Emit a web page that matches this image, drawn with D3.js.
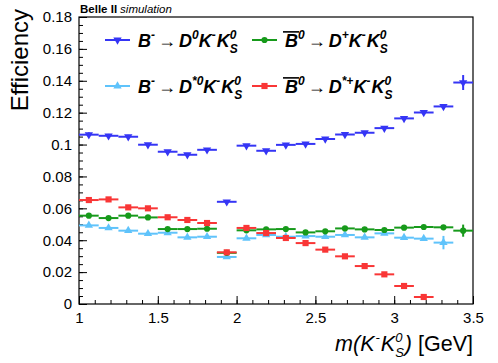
<!DOCTYPE html>
<html>
<head>
<meta charset="utf-8">
<script src="https://cdn.jsdelivr.net/npm/d3@7"></script>
<style>
  body { margin: 0; background: #fff; }
  svg text { font-family: "Liberation Sans", Arial, Helvetica, sans-serif; }
</style>
</head>
<body>
<div id="chart"></div>
<script>
// bin edges in m(K- K0S) [GeV]
const binEdges = [1.0, 1.125, 1.25, 1.375, 1.5, 1.625, 1.75, 1.875, 2.0, 2.125, 2.25,
                  2.375, 2.5, 2.625, 2.75, 2.875, 3.0, 3.125, 3.25, 3.375, 3.5];

// efficiencies per bin (null = empty bin)
const effD0 = [0.1062, 0.1055, 0.1049, 0.0999, 0.0955, 0.0936, 0.0967, 0.0641, 0.0993, 0.0961,
               0.0998, 0.1004, 0.1035, 0.1063, 0.1074, 0.1103, 0.1164, 0.1201, 0.1239, 0.1389];
const errD0 = [0.0015, 0.0012, 0.0012, 0.001, 0.001, 0.001, 0.001, 0.001, 0.001, 0.001,
               0.001, 0.001, 0.001, 0.001, 0.001, 0.001, 0.001, 0.0012, 0.0015, 0.0047];

const effDp = [0.0554, 0.0539, 0.0554, 0.0543, 0.0470, 0.0470, 0.0472, 0.0321, 0.0462, 0.0468,
               0.0470, 0.0449, 0.0456, 0.0474, 0.0468, 0.0464, 0.0479, 0.0483, 0.0481, 0.0460];
const errDp = [0.001, 0.001, 0.001, 0.001, 0.001, 0.001, 0.001, 0.001, 0.001, 0.001,
               0.001, 0.001, 0.001, 0.001, 0.001, 0.001, 0.001, 0.001, 0.001, 0.0038];

const effDs0 = [0.0493, 0.0477, 0.0460, 0.0441, 0.0447, 0.0418, 0.0422, 0.0295, 0.0412, 0.0433,
                0.0422, 0.0426, 0.0422, 0.0433, 0.0418, 0.0443, 0.0416, 0.0410, 0.0385, null];
const errDs0 = [0.001, 0.001, 0.001, 0.001, 0.001, 0.001, 0.001, 0.001, 0.001, 0.001,
                0.001, 0.001, 0.001, 0.001, 0.001, 0.001, 0.001, 0.0012, 0.0042, null];

const effDsp = [0.0652, 0.0656, 0.0606, 0.0600, 0.0544, 0.0527, 0.0508, 0.0324, 0.0477, 0.0445,
                0.0414, 0.0382, 0.0341, 0.0299, 0.0238, 0.0186, 0.0113, 0.0044, null, null];
const errDsp = [0.001, 0.001, 0.001, 0.001, 0.001, 0.001, 0.001, 0.001, 0.001, 0.001,
                0.001, 0.001, 0.001, 0.001, 0.001, 0.001, 0.001, 0.001, null, null];

const xTicks = [1, 1.5, 2, 2.5, 3, 3.5];
const xTickLabels = ["1", "1.5", "2", "2.5", "3", "3.5"];
const yTicks = [0, 0.02, 0.04, 0.06, 0.08, 0.1, 0.12, 0.14, 0.16, 0.18];
const yTickLabels = ["0", "0.02", "0.04", "0.06", "0.08", "0.1", "0.12", "0.14", "0.16", "0.18"];

const width = 498, height = 363;
const margin = { top: 17, right: 25, bottom: 59, left: 79 };
const font = 15;

const svg = d3.select("#chart").append("svg")
  .attr("width", width)
  .attr("height", height);

const x = d3.scaleLinear().domain([1, 3.5]).range([margin.left, width - margin.right]);
const y = d3.scaleLinear().domain([0, 0.18]).range([height - margin.bottom, margin.top]);

// minor ticks
const xMinor = d3.range(10, 36).map(d => d / 10);
const yMinor = d3.range(0, 37).map(d => d * 0.005);

svg.append("g")
  .attr("transform", `translate(0,${height - margin.bottom})`)
  .call(d3.axisBottom(x).tickValues(xMinor).tickSize(-4).tickFormat(""))
  .call(g => g.select(".domain").remove());
svg.append("g")
  .attr("transform", `translate(${margin.left},0)`)
  .call(d3.axisLeft(y).tickValues(yMinor).tickSize(-4).tickFormat(""))
  .call(g => g.select(".domain").remove());

svg.append("g")
  .attr("transform", `translate(0,${height - margin.bottom})`)
  .call(d3.axisBottom(x).tickValues(xTicks).tickSize(-8).tickPadding(8)
    .tickFormat((d, i) => xTickLabels[i]))
  .call(g => g.select(".domain").remove())
  .call(g => g.selectAll("text").attr("font-size", font).attr("fill", "#000"));
svg.append("g")
  .attr("transform", `translate(${margin.left},0)`)
  .call(d3.axisLeft(y).tickValues(yTicks).tickSize(-8).tickPadding(7)
    .tickFormat((d, i) => yTickLabels[i]))
  .call(g => g.select(".domain").remove())
  .call(g => g.selectAll("text").attr("font-size", font).attr("fill", "#000"));

svg.append("rect")
  .attr("x", margin.left)
  .attr("y", margin.top)
  .attr("width", width - margin.left - margin.right)
  .attr("height", height - margin.top - margin.bottom)
  .attr("fill", "none")
  .attr("stroke", "#000")
  .attr("stroke-width", 1.2);

// series
const series = [
  { vals: effD0, errs: errD0, color: "#3535f5", sym: d3.symbolTriangle, rot: 180, size: 30 },
  { vals: effDs0, errs: errDs0, color: "#5fc3fb", sym: d3.symbolTriangle, rot: 0, size: 30 },
  { vals: effDp, errs: errDp, color: "#179a1b", sym: d3.symbolCircle, rot: 0, size: 30 },
  { vals: effDsp, errs: errDsp, color: "#f93636", sym: d3.symbolSquare, rot: 0, size: 38 },
];

series.forEach(s => {
  const pts = s.vals.map((v, i) => ({ v, e: s.errs[i], lo: binEdges[i], hi: binEdges[i + 1] }))
    .filter(d => d.v !== null);
  const g = svg.append("g");
  g.selectAll(".hbar").data(pts).enter().append("line")
    .attr("x1", d => x(d.lo)).attr("x2", d => x(d.hi))
    .attr("y1", d => y(d.v)).attr("y2", d => y(d.v))
    .attr("stroke", s.color).attr("stroke-width", 2);
  g.selectAll(".vbar").data(pts).enter().append("line")
    .attr("x1", d => x((d.lo + d.hi) / 2)).attr("x2", d => x((d.lo + d.hi) / 2))
    .attr("y1", d => y(d.v - d.e)).attr("y2", d => y(d.v + d.e))
    .attr("stroke", s.color).attr("stroke-width", 2);
  g.selectAll(".mk").data(pts).enter().append("path")
    .attr("d", d3.symbol().type(s.sym).size(s.size))
    .attr("transform", d => `translate(${x((d.lo + d.hi) / 2)},${y(d.v)}) rotate(${s.rot})`)
    .attr("fill", s.color);
});

// rich text helper: parts are {t, size, bold, italic, dy, gap} or {stack:[sup, sub]}
function rich(parent, px, py, parts, anchor) {
  const g = parent.append("g");
  let cx = 0;
  const put = (p, at) => {
    const t = g.append("text")
      .attr("x", at).attr("y", p.dy || 0)
      .attr("font-size", p.size)
      .attr("font-weight", p.bold ? "bold" : "normal")
      .attr("font-style", p.italic ? "italic" : "normal")
      .attr("fill", "#000")
      .text(p.t);
    return t.node().getComputedTextLength();
  };
  parts.forEach(p => {
    cx += p.pre || 0;
    if (p.stack) {
      let w = 0;
      p.stack.forEach(q => { w = Math.max(w, put(q, cx)); });
      cx += w + (p.gap || 0);
    } else {
      const w = put(p, cx);
      if (p.over) {
        g.append("line")
          .attr("x1", cx - 2).attr("x2", cx + w + 1)
          .attr("y1", -p.size * 0.84).attr("y2", -p.size * 0.84)
          .attr("stroke", "#000").attr("stroke-width", 1.6);
      }
      cx += w + (p.gap || 0);
    }
  });
  g.attr("transform", `translate(${anchor === "end" ? px - cx : px},${py})`);
  return g;
}

// axis titles
svg.append("text")
  .attr("transform", `translate(28,9) rotate(-90)`)
  .attr("text-anchor", "end")
  .attr("font-size", 24)
  .text("Efficiency");

const L = 21.5, S = 13;
rich(svg, width - margin.right, 351, [
  { t: "m(K", size: L, italic: true, gap: 1 },
  { t: "-", size: S, italic: true, dy: -9, gap: 1 },
  { t: "K", size: L, italic: true },
  { stack: [{ t: "0", size: S, italic: true, dy: -9 }, { t: "S", size: S, italic: true, dy: 6 }], gap: 1 },
  { t: ")", size: L, italic: true, gap: 6 },
  { t: "[GeV]", size: L },
], "end");

// Belle II label
rich(svg, 80, 13, [
  { t: "Belle II", size: 11.5, bold: true, gap: 3 },
  { t: "simulation", size: 11.5, italic: true },
]);

// legend
const B = 18, s2 = 12;
const bi = { bold: true, italic: true };
const kks = [
  { t: "K", size: B, ...bi },
  { t: "-", size: s2, ...bi, dy: -8, gap: 1 },
  { t: "K", size: B, ...bi },
  { stack: [{ t: "0", size: s2, ...bi, dy: -8 }, { t: "S", size: s2, ...bi, dy: 6 }] },
];
const arrow = { t: "\u2192", size: B, pre: 3, gap: 3 };
const legend = [
  { color: "#3535f5", sym: d3.symbolTriangle, rot: 180, size: 30, lx: 105, ly: 40,
    text: [{ t: "B", size: B, ...bi }, { t: "-", size: s2, ...bi, dy: -8 }, arrow,
           { t: "D", size: B, ...bi }, { t: "0", size: s2, ...bi, dy: -8 }, ...kks] },
  { color: "#179a1b", sym: d3.symbolCircle, rot: 0, size: 30, lx: 252, ly: 40,
    text: [{ t: "B", size: B, ...bi, over: true }, { t: "0", size: s2, ...bi, dy: -8 }, arrow,
           { t: "D", size: B, ...bi }, { t: "+", size: s2, ...bi, dy: -8 }, ...kks] },
  { color: "#5fc3fb", sym: d3.symbolTriangle, rot: 0, size: 30, lx: 105, ly: 86,
    text: [{ t: "B", size: B, ...bi }, { t: "-", size: s2, ...bi, dy: -8 }, arrow,
           { t: "D", size: B, ...bi }, { t: "*0", size: s2, ...bi, dy: -8 }, ...kks] },
  { color: "#f93636", sym: d3.symbolSquare, rot: 0, size: 38, lx: 252, ly: 86,
    text: [{ t: "B", size: B, ...bi, over: true }, { t: "0", size: s2, ...bi, dy: -8 }, arrow,
           { t: "D", size: B, ...bi }, { t: "*+", size: s2, ...bi, dy: -8 }, ...kks] },
];

legend.forEach(l => {
  svg.append("line")
    .attr("x1", l.lx).attr("x2", l.lx + 25)
    .attr("y1", l.ly).attr("y2", l.ly)
    .attr("stroke", l.color).attr("stroke-width", 2);
  svg.append("path")
    .attr("d", d3.symbol().type(l.sym).size(l.size))
    .attr("transform", `translate(${l.lx + 12.5},${l.ly}) rotate(${l.rot})`)
    .attr("fill", l.color);
  rich(svg, l.lx + 33, l.ly + 7, l.text);
});
</script>
</body>
</html>
